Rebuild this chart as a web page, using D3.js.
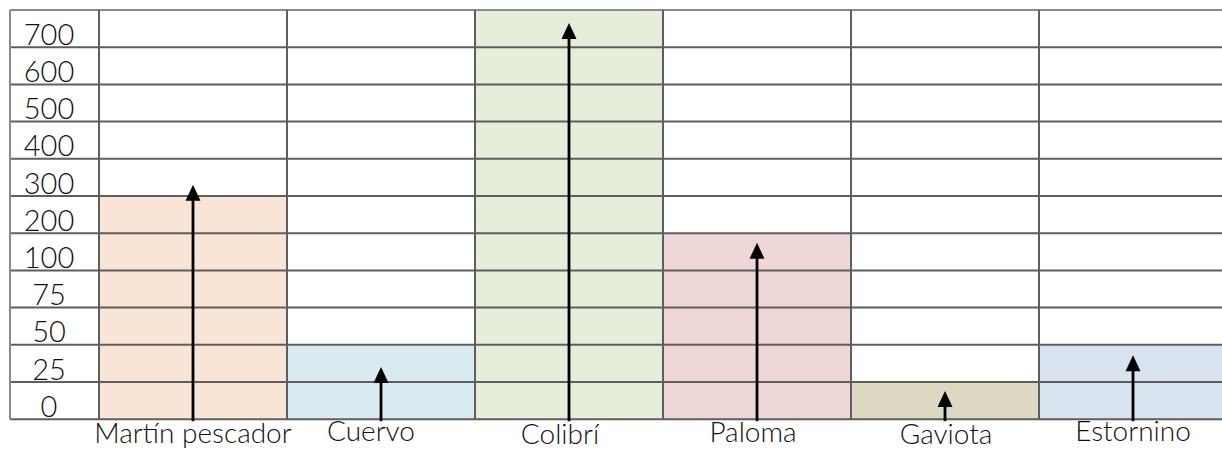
<!DOCTYPE html>
<html>
<head>
<meta charset="utf-8">
<script src="https://cdn.jsdelivr.net/npm/d3@7"></script>
<style>
  html, body { margin: 0; padding: 0; background: #ffffff; }
  svg { display: block; }
  text { font-family: Lato, "Noto Sans", "DejaVu Sans", sans-serif; font-weight: 300; fill: #111; }
</style>
</head>
<body>
<svg id="chart" width="1222" height="450"></svg>
<script>
// ---- data ----
const categories = ["Martín pescador", "Cuervo", "Colibrí", "Paloma", "Gaviota", "Estornino"];
// level each bar fills up to (edge of the band scale)
const barValues = [300, 50, 800, 200, 25, 50];
// value where each arrow's tip points
const arrowValues = [330, 35, 765, 174, 19, 43];
// row labels (one per band, bottom to top)
const tickLabels = ["0", "25", "50", "75", "100", "200", "300", "400", "500", "600", "700"];
// band edges of the value axis
const bandEdges = [0, 25, 50, 75, 100, 200, 300, 400, 500, 600, 700, 800];
const barColors = ["#f8e5d6", "#d9eaf0", "#e5eedb", "#efd6d7", "#ddd8c2", "#d9e2ef"];
// small label offsets [dx, dy] as in the original picture
const labelNudge = [[0, 1], [-10, -1], [-9, 2], [-4, 0], [1, 2], [0, -1]];

// ---- layout ----
const svg = d3.select("#chart");
const gridLeft = 10, labelColRight = 99, gridTop = 10, gridBottom = 419.2;
const colWidth = 188;

const x = d3.scaleBand()
  .domain(categories)
  .range([labelColRight, labelColRight + colWidth * categories.length])
  .padding(0);

const rowH = (gridBottom - gridTop) / (bandEdges.length - 1);
const y = d3.scaleLinear()
  .domain(bandEdges)
  .range(bandEdges.map((d, i) => gridBottom - i * rowH));

// bars
svg.append("g").selectAll("rect")
  .data(categories)
  .join("rect")
  .attr("x", d => x(d))
  .attr("width", x.bandwidth())
  .attr("y", (d, i) => y(barValues[i]))
  .attr("height", (d, i) => y(0) - y(barValues[i]))
  .attr("fill", (d, i) => barColors[i]);

// grid
const gridRight = x.range()[1];
const grid = svg.append("g");
grid.selectAll("line.h")
  .data(bandEdges)
  .join("line")
  .attr("class", "h")
  .attr("x1", gridLeft).attr("x2", gridRight)
  .attr("y1", d => y(d)).attr("y2", d => y(d))
  .attr("stroke", (d, i) => i === bandEdges.length - 1 ? "#8a8a8a" : "#5e5e5e")
  .attr("stroke-width", 2);
const vEdges = [gridLeft].concat(categories.map(c => x(c))).concat([gridRight]);
grid.selectAll("line.v")
  .data(vEdges)
  .join("line")
  .attr("class", "v")
  .attr("x1", d => d).attr("x2", d => d)
  .attr("y1", gridTop).attr("y2", gridBottom)
  .attr("stroke", (d, i) => i === 0 ? "#8a8a8a" : "#5e5e5e")
  .attr("stroke-width", 2);

// row labels
svg.append("g").selectAll("text")
  .data(tickLabels)
  .join("text")
  .attr("x", 49)
  .attr("y", (d, i) => y(bandEdges[i]) - 2.5)
  .attr("text-anchor", "middle")
  .style("font-size", "29px")
  .text(d => d);

// arrows
const arrows = svg.append("g");
const headH = 16, headW = 15;
categories.forEach((c, i) => {
  const cx = x(c) + x.bandwidth() / 2;
  const tip = y(arrowValues[i]);
  arrows.append("line")
    .attr("x1", cx).attr("x2", cx)
    .attr("y1", gridBottom + 2).attr("y2", tip + headH - 2)
    .attr("stroke", "#000").attr("stroke-width", 2.8);
  arrows.append("path")
    .attr("d", `M${cx},${tip} L${cx + headW / 2},${tip + headH} L${cx - headW / 2},${tip + headH} Z`)
    .attr("fill", "#000");
});

// category labels
svg.append("g").selectAll("text")
  .data(categories)
  .join("text")
  .attr("x", (d, i) => x(d) + x.bandwidth() / 2 + labelNudge[i][0])
  .attr("y", (d, i) => 442 + labelNudge[i][1])
  .attr("text-anchor", "middle")
  .style("font-size", "28px")
  .text(d => d);
</script>
</body>
</html>
